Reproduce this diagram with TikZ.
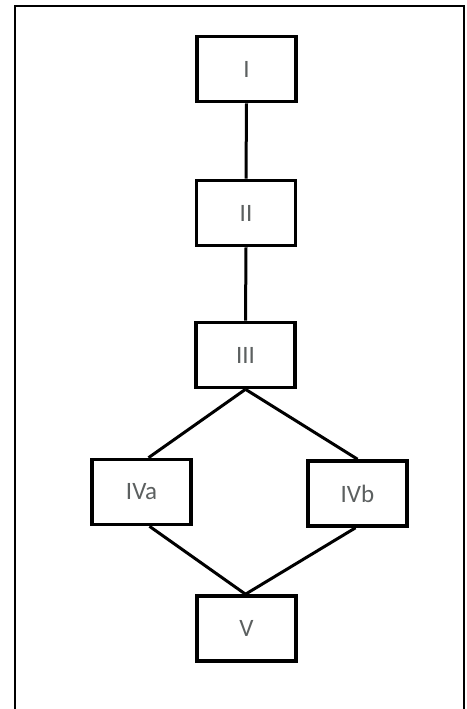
\documentclass[tikz,border=0pt]{standalone}
\usepackage{fontspec}
\setmainfont{Carlito}
\definecolor{labelgray}{RGB}{92,96,96}
\tikzset{
  stage/.style={draw=black, line width=3.6pt, rectangle, minimum width=99pt,
    minimum height=65pt, inner sep=0pt, font=\fontsize{25}{25}\selectfont,
    text=labelgray, fill=white},
  link/.style={line width=3pt, black},
  frame/.style={line width=2pt, black}
}
\begin{document}
\begin{tikzpicture}[x=1pt, y=-1pt]
  \clip (0,0) rectangle (466,709);
  \fill[white] (0,0) rectangle (466,709);
  % outer frame, open at the bottom edge of the page
  \draw[frame] (15,730) -- (15,6) -- (463.5,6) -- (463.5,730);

  \node[stage] (s1)  at (246.5,69)    {I};
  \node[stage] (s2)  at (246,213)     {II};
  \node[stage] (s3)  at (245.5,355)   {III};
  \node[stage] (s4a) at (141.5,492)   {IVa};
  \node[stage] (s4b) at (357.5,493.5) {IVb};
  \node[stage] (s5)  at (246.5,628.5) {V};

  \draw[link] (s1.south) -- (s2.north);
  \draw[link] (s2.south) -- (s3.north);
  \draw[link] (s3.south) -- ([xshift=7pt]s4a.north);
  \draw[link] (s3.south) -- (s4b.north);
  \draw[link] ([xshift=8pt]s4a.south) -- ([xshift=-1pt]s5.north);
  \draw[link] ([xshift=-2pt]s4b.south) -- ([xshift=-1pt]s5.north);
\end{tikzpicture}
\end{document}
